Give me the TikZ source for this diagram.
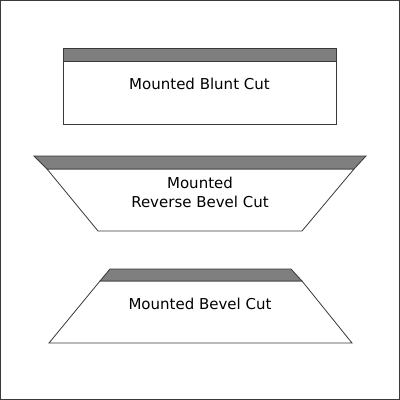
\documentclass[tikz,border=0pt]{standalone}
\usepackage{fontspec}
\setmainfont{DejaVu Sans}
\usepackage{xcolor}
\definecolor{bandgray}{HTML}{7F7F7F}
\definecolor{edgegray}{HTML}{3A3A3A}

\begin{document}
\begin{tikzpicture}[
  x=1pt, y=-1pt,
  band/.style={fill=bandgray, draw=edgegray, line width=0.8pt, line join=miter},
  body/.style={fill=white, draw=edgegray, line width=0.8pt},
  cutlabel/.style={font=\fontsize{15}{19}\selectfont, align=center, text=black}
]
% frame
\draw[draw=edgegray, line width=1.2pt, fill=white] (0.6,0.6) rectangle (399.4,399.4);
\useasboundingbox (0,0) rectangle (400,400);

% blunt cut
\draw[body] (63,61.5) rectangle (336,124);
\draw[band] (63,48.5) rectangle (336,61.5);
\node[cutlabel] (blunt) at (199.5,84) {Mounted Blunt Cut};

% reverse bevel cut
\draw[body] (47,169) -- (354,169) -- (302,231) -- (98,231) -- cycle;
\draw[band] (34,156) -- (366,156) -- (354,169) -- (47,169) -- cycle;
\node[cutlabel] (revbevel) at (200,192.5) {Mounted\\Reverse Bevel Cut};

% bevel cut
\draw[body] (100,281) -- (302,281) -- (352,343) -- (49,343) -- cycle;
\draw[band] (110,269) -- (291,269) -- (302,281) -- (100,281) -- cycle;
\node[cutlabel] (bevel) at (200,304) {Mounted Bevel Cut};
\end{tikzpicture}
\end{document}
